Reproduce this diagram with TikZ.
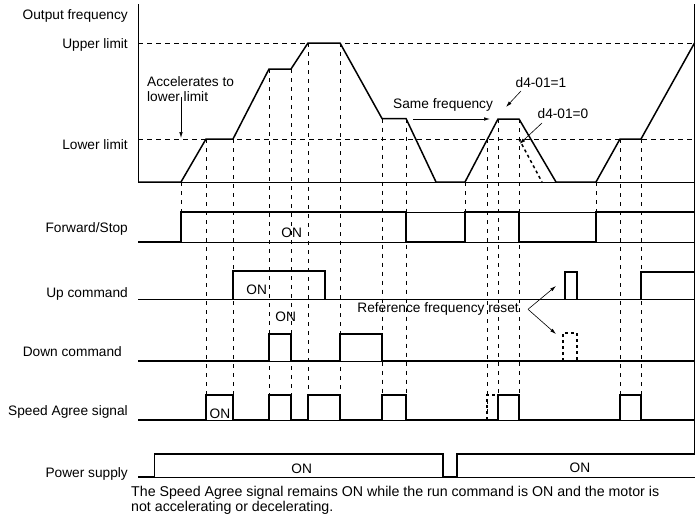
\documentclass[tikz,border=0pt]{standalone}
\usepackage{fontspec}
\setmainfont{Liberation Sans}
\usetikzlibrary{arrows.meta}
\tikzset{
 sig/.style={line width=1.5pt, line join=miter},
 thinl/.style={line width=0.6pt},
 guide/.style={line width=0.7pt, dash pattern=on 4pt off 5pt},
 lim/.style={line width=0.7pt, dash pattern=on 5pt off 4pt},
 alt/.style={line width=1.5pt, dash pattern=on 3pt off 3pt},
 lbl/.style={inner sep=0pt, font=\fontsize{13.7}{15}\selectfont},
 arr/.style={line width=0.6pt, -{Latex[length=6pt,width=3.5pt]}},
}
\begin{document}
\begin{tikzpicture}[x=1pt,y=-1pt]
\useasboundingbox (0,0) rectangle (696,522);
% guide lines
\foreach \x/\a/\b in {181/182/212, 206/139/395, 233/139/395, 269/69/395, 291/69/395, 308/43/395, 340/43/395, 382/118.5/395, 406/118.5/395, 465/182/212, 487/139/420, 498/119/395, 519/119/395, 596/182/212, 620/139/395, 641/139/395}
  \draw[guide] (\x,\a) -- (\x,\b);
% limits and axis
\draw[lim] (138,43) -- (694.5,43);
\draw[lim] (138,139) -- (694.5,139);
\draw[thinl] (138,4) -- (138,182) -- (694.5,182);
% right border
\draw[thinl] (694.5,4) -- (694.5,454);
% frequency
\draw[sig] (138,182) -- (181,182) -- (206,139) -- (233,139) -- (269,69) -- (291,69) -- (308,43) -- (340,43) -- (382,118.5) -- (406,118.5) -- (436,182) -- (465,182) -- (498,119) -- (519,119) -- (556,182) -- (596,182) -- (620,139) -- (641,139) -- (694.5,43);
\draw[alt] (519,139) -- (542,182);
% Forward/Stop
\draw[thinl] (181,212) -- (694.5,212);
\draw[thinl] (138,242) -- (694.5,242);
\draw[sig] (138,242) -- (181,242) -- (181,212) -- (406,212) -- (406,242) -- (465,242) -- (465,212) -- (519,212) -- (519,242) -- (596,242) -- (596,212) -- (694.5,212);
% Up command
\draw[thinl] (138,299.5) -- (694.5,299.5);
\draw[sig] (138,299.5) -- (233,299.5) -- (233,271) -- (325,271) -- (325,299.5) -- (565,299.5) -- (565,272) -- (577,272) -- (577,299.5) -- (641,299.5) -- (641,272) -- (694.5,272);
% Down command
\draw[thinl] (138,361) -- (694.5,361);
\draw[sig] (138,361) -- (269,361) -- (269,334) -- (291,334) -- (291,361) -- (340,361) -- (340,334) -- (382,334) -- (382,361) -- (694.5,361);
\draw[alt] (563,361) -- (563,333) -- (577,333) -- (577,361);
% Speed agree
\draw[thinl] (138,420) -- (694.5,420);
\draw[sig] (138,420) -- (206,420) -- (206,395) -- (233,395) -- (233,420) -- (269,420) -- (269,395) -- (291,395) -- (291,420) -- (308,420) -- (308,395) -- (340,395) -- (340,420) -- (382,420) -- (382,395) -- (406,395) -- (406,420) -- (498,420) -- (498,395) -- (519,395) -- (519,420) -- (620,420) -- (620,395) -- (641,395) -- (641,420) -- (694.5,420);
\draw[alt] (487,420) -- (487,395) -- (498,395);
% Power supply
\draw[thinl] (138,477) -- (694.5,477);
\draw[sig] (138,477) -- (154.5,477) -- (154.5,454) -- (443,454) -- (443,477) -- (457,477) -- (457,454) -- (694.5,454);
% left labels
\node[lbl, anchor=east] (lof) at (128,16) {Output frequency};
\node[lbl, anchor=east] (lul) at (128,45) {Upper limit};
\node[lbl, anchor=east] (lll) at (128,145) {Lower limit};
\node[lbl, anchor=east] (lfs) at (128,229) {Forward/Stop};
\node[lbl, anchor=east] (luc) at (128,294) {Up command};
\node[lbl, anchor=east] (ldc) at (122,352) {Down command};
\node[lbl, anchor=east] (lsa) at (128,411.5) {Speed Agree signal};
\node[lbl, anchor=east] (lps) at (128,474) {Power supply};
% ON labels
\node[lbl] (on1) at (291.7,232.3) {ON};
\node[lbl] (on2) at (256.7,290) {ON};
\node[lbl] (on3) at (285.7,316.7) {ON};
\node[lbl] (on4) at (220,413.3) {ON};
\node[lbl] (on5) at (301.7,468.3) {ON};
\node[lbl] (on6) at (580,468) {ON};
% annotations
\node[lbl, anchor=west, align=left] (acc) at (147,89) {Accelerates to\\lower limit};
\coordinate (acca) at (181,97);
\coordinate (accb) at (181,138);
\draw[arr] (acca) -- (accb);
\node[lbl, anchor=west] (sf) at (393,105) {Same frequency};
\coordinate (sfa) at (413,119);
\coordinate (sfb) at (490,119);
\draw[arr] (sfa) -- (sfb);
\node[lbl] (d1) at (541,83) {d4-01=1};
\coordinate (d1a) at (521,91);
\coordinate (d1b) at (506,107);
\draw[arr] (d1a) -- (d1b);
\node[lbl] (d0) at (563,114) {d4-01=0};
\coordinate (d0a) at (542,123);
\coordinate (d0b) at (519.5,144);
\draw[arr] (d0a) -- (d0b);
\node[lbl, anchor=east] (rfr) at (519,309.3) {Reference frequency reset};
\coordinate (rfa) at (528,309.3);
\coordinate (rfb) at (556,286);
\coordinate (rfc) at (556,334);
\draw[arr] (rfa) -- (rfb);
\draw[arr] (rfa) -- (rfc);
% note
\node[lbl, anchor=north west, align=left, font=\fontsize{14.2}{12.5}\selectfont] (note) at (131,486.5) {The Speed Agree signal remains ON while the run command is ON and the motor is\\not accelerating or decelerating.};
\end{tikzpicture}
\end{document}
